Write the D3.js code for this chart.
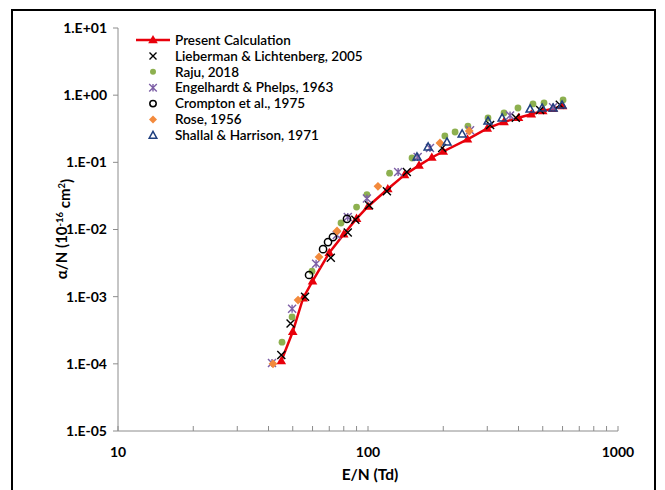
<!DOCTYPE html>
<html>
<head>
<meta charset="utf-8">
<script src="https://cdn.jsdelivr.net/npm/d3@7"></script>
<style>
  html, body { margin: 0; padding: 0; background: #fff; }
  svg { display: block; font-family: Lato, "Noto Sans", sans-serif; }
</style>
</head>
<body>
<svg id="chart" width="665" height="490"></svg>
<script>
// Ionization coefficient alpha/N versus reduced field E/N
const present = [[45,1.1e-4],[50,3.0e-4],[55,9.5e-4],[60,1.7e-3],[70,4.5e-3],[80,8.5e-3],[90,1.45e-2],[100,2.2e-2],[120,4.0e-2],[140,6.5e-2],[160,9.0e-2],[180,0.118],[200,0.145],[250,0.22],[300,0.32],[350,0.40],[400,0.46],[450,0.52],[500,0.58],[550,0.63],[600,0.69]];
const lieberman = [[45,1.35e-4],[49,4.0e-4],[56,1.0e-3],[71,3.8e-3],[83,9.0e-3],[89,1.4e-2],[101,2.3e-2],[119,3.7e-2],[143,7.2e-2],[198,0.163],[308,0.36],[390,0.46],[488,0.6],[585,0.72]];
const raju = [[45.3,2.1e-4],[49.7,5.0e-4],[59.7,2.4e-3],[78,1.25e-2],[90,2.16e-2],[99,3.3e-2],[122,6.9e-2],[150,0.116],[203,0.247],[223,0.283],[251,0.347],[302,0.457],[350,0.543],[398,0.644],[457,0.74],[506,0.77],[603,0.85]];
const engelhardt = [[41.3,1.03e-4],[49.7,6.6e-4],[62,3.1e-3],[75,8.3e-3],[83,1.53e-2],[99,2.9e-2],[132,7.2e-2],[158,0.12],[177,0.164],[256,0.30],[370,0.5],[550,0.66]];
const crompton = [[58.1,2.1e-3],[66.1,5.1e-3],[69.2,6.5e-3],[72.4,7.7e-3],[82.4,1.44e-2]];
const rose = [[41.7,1.0e-4],[52.5,8.9e-4],[63.7,3.9e-3],[75.2,9.5e-3],[109.6,4.4e-2],[194,0.194],[254,0.293]];
const shallal = [[157,0.12],[174,0.169],[207,0.2],[238,0.264],[302,0.41],[344,0.457],[445,0.62],[497,0.64],[550,0.64],[597,0.71]];

const legendNames = ["Present Calculation","Lieberman & Lichtenberg, 2005","Raju, 2018","Engelhardt & Phelps, 1963","Crompton et al., 1975","Rose, 1956","Shallal & Harrison, 1971"];
const yTicks = [1e-5,1e-4,1e-3,1e-2,1e-1,1,10];
const yTickLabels = ["1.E-05","1.E-04","1.E-03","1.E-02","1.E-01","1.E+00","1.E+01"];
const xTicks = [10,100,1000];

const svg = d3.select("#chart");
const x = d3.scaleLog().domain([10,1000]).range([118,618]);
const y = d3.scaleLog().domain([1e-5,10]).range([431,28]);

// outer frame
svg.append("rect").attr("x",12).attr("y",10).attr("width",643).attr("height",500)
  .attr("fill","none").attr("stroke","#000").attr("stroke-width",2);

const axisColor = "#8c8c8c";

// y axis line + ticks
svg.append("line").attr("x1",x(10)).attr("x2",x(10)).attr("y1",y(10)).attr("y2",y(1e-5))
  .attr("stroke",axisColor).attr("stroke-width",1);
yTicks.forEach((t,i) => {
  svg.append("line").attr("x1",x(10)-5).attr("x2",x(10)).attr("y1",y(t)).attr("y2",y(t))
    .attr("stroke",axisColor);
  svg.append("text").attr("x",107).attr("y",y(t)).attr("dy","0.35em")
    .attr("text-anchor","end").attr("font-size",14).attr("font-weight","bold")
    .text(yTickLabels[i]);
});

// x axis line + major/minor ticks
svg.append("line").attr("x1",x(10)).attr("x2",x(1000)).attr("y1",y(1e-5)).attr("y2",y(1e-5))
  .attr("stroke",axisColor);
const minor = [];
[10,100].forEach(d => { for (let k=1;k<=10;k++) minor.push(d*k); });
Array.from(new Set(minor)).forEach(t => {
  svg.append("line").attr("x1",x(t)).attr("x2",x(t)).attr("y1",y(1e-5)).attr("y2",y(1e-5)-5)
    .attr("stroke",axisColor);
});
xTicks.forEach(t => {
  svg.append("text").attr("x",x(t)).attr("y",452).attr("dy","0.35em")
    .attr("text-anchor","middle").attr("font-size",14).attr("font-weight","bold").text(t);
});

// axis titles
svg.append("text").attr("x",370).attr("y",475).attr("dy","0.35em").attr("text-anchor","middle")
  .attr("font-size",15.5).attr("font-weight","bold").text("E/N (Td)");
const yt = svg.append("text").attr("transform","translate(62,229) rotate(-90)")
  .attr("text-anchor","middle").attr("dy","0.35em").attr("font-size",15).attr("font-weight","bold");
yt.append("tspan").text("α/N (10");
yt.append("tspan").attr("dy","-0.45em").attr("font-size",9.5).text("-16");
yt.append("tspan").attr("dy","0.45em").text(" cm");
yt.append("tspan").attr("dy","-0.45em").attr("font-size",9.5).text("2");
yt.append("tspan").attr("dy","0.45em").text(")");

// marker drawers
const colors = {red:"#e8000b", green:"#8db04f", purple:"#7d5fa6", orange:"#f38a3c", navy:"#1f3f7f"};
function triFilled(g, cx, cy, s, c){ g.append("path").attr("d",d3.symbol(d3.symbolTriangle, s)()).attr("transform",`translate(${cx},${cy})`).attr("fill",c); }
function cross(g, cx, cy, r, c, w){ g.append("path").attr("d",`M${cx-r},${cy-r}L${cx+r},${cy+r}M${cx-r},${cy+r}L${cx+r},${cy-r}`).attr("stroke",c).attr("stroke-width",w).attr("fill","none"); }
function star(g, cx, cy, r, c){ g.append("path").attr("d",`M${cx-r},${cy-r}L${cx+r},${cy+r}M${cx-r},${cy+r}L${cx+r},${cy-r}M${cx},${cy-r}L${cx},${cy+r}`).attr("stroke",c).attr("stroke-width",1.4).attr("fill","none"); }
function dot(g, cx, cy, r, c){ g.append("circle").attr("cx",cx).attr("cy",cy).attr("r",r).attr("fill",c); }
function ring(g, cx, cy, r, c){ g.append("circle").attr("cx",cx).attr("cy",cy).attr("r",r).attr("fill","none").attr("stroke",c).attr("stroke-width",1.5); }
function diamond(g, cx, cy, r, c){ g.append("path").attr("d",`M${cx},${cy-r}L${cx+r},${cy}L${cx},${cy+r}L${cx-r},${cy}Z`).attr("fill",c); }
function triOpen(g, cx, cy, r, c){ g.append("path").attr("d",`M${cx},${cy-r}L${cx+r*0.95},${cy+r*0.7}L${cx-r*0.95},${cy+r*0.7}Z`).attr("fill","none").attr("stroke",c).attr("stroke-width",1.5); }

const plot = svg.append("g");
// present calculation curve
plot.append("path").datum(present)
  .attr("d", d3.line().x(d=>x(d[0])).y(d=>y(d[1])))
  .attr("fill","none").attr("stroke",colors.red).attr("stroke-width",2.5);
present.forEach(d => triFilled(plot, x(d[0]), y(d[1])+0.5, 40, colors.red));

lieberman.forEach(d => cross(plot, x(d[0]), y(d[1]), 4, "#000", 1.4));
raju.forEach(d => dot(plot, x(d[0]), y(d[1]), 3.4, colors.green));
engelhardt.forEach(d => star(plot, x(d[0]), y(d[1]), 4, colors.purple));
crompton.forEach(d => ring(plot, x(d[0]), y(d[1]), 3.6, "#000"));
rose.forEach(d => diamond(plot, x(d[0]), y(d[1]), 4.4, colors.orange));
shallal.forEach(d => triOpen(plot, x(d[0]), y(d[1]), 4.2, colors.navy));

// legend
const lg = svg.append("g");
const ly0 = 40, ldy = 15.9, lmx = 153;
const drawers = [
  (cx,cy) => { lg.append("line").attr("x1",136).attr("x2",170).attr("y1",cy).attr("y2",cy).attr("stroke",colors.red).attr("stroke-width",2.5); triFilled(lg,cx,cy+0.5,40,colors.red); },
  (cx,cy) => cross(lg,cx,cy,3.5,"#000",1.4),
  (cx,cy) => dot(lg,cx,cy,3,colors.green),
  (cx,cy) => star(lg,cx,cy,3.8,colors.purple),
  (cx,cy) => ring(lg,cx,cy,3.2,"#000"),
  (cx,cy) => diamond(lg,cx,cy,4,colors.orange),
  (cx,cy) => triOpen(lg,cx,cy,4,colors.navy)
];
legendNames.forEach((name,i) => {
  const cy = ly0 + i*ldy;
  drawers[i](lmx, cy);
  lg.append("text").attr("x",175).attr("y",cy).attr("dy","0.35em").attr("font-size",13.5)
    .attr("font-weight", 600).text(name);
});
</script>
</body>
</html>
